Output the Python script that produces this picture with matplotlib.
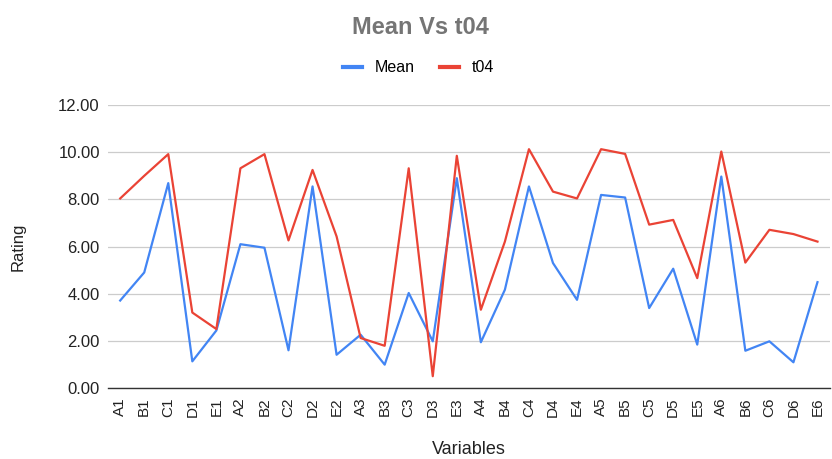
import matplotlib
matplotlib.use("Agg")
import matplotlib.pyplot as plt
from matplotlib.lines import Line2D

plt.rcParams['font.family'] = ['Liberation Sans', 'DejaVu Sans']

variables = ['A1', 'B1', 'C1', 'D1', 'E1', 'A2', 'B2', 'C2', 'D2', 'E2',
             'A3', 'B3', 'C3', 'D3', 'E3', 'A4', 'B4', 'C4', 'D4', 'E4',
             'A5', 'B5', 'C5', 'D5', 'E5', 'A6', 'B6', 'C6', 'D6', 'E6']
mean = [3.71, 4.90, 8.69, 1.13, 2.44, 6.10, 5.95, 1.60, 8.55, 1.41,
        2.26, 0.99, 4.03, 1.98, 8.90, 1.94, 4.17, 8.55, 5.30, 3.74,
        8.19, 8.08, 3.39, 5.06, 1.84, 8.97, 1.58, 1.98, 1.09, 4.49]
t04 = [8.04, 9.00, 9.92, 3.20, 2.50, 9.32, 9.92, 6.26, 9.25, 6.43,
       2.12, 1.79, 9.32, 0.50, 9.85, 3.32, 6.21, 10.13, 8.33, 8.04,
       10.13, 9.93, 6.93, 7.13, 4.66, 10.03, 5.32, 6.71, 6.53, 6.21]
yticks = [0, 2, 4, 6, 8, 10, 12]

blue = '#4285F4'
red = '#EA4335'

fig = plt.figure(figsize=(8.32, 4.59), dpi=100)
ax = fig.add_axes([0.130, 0.1547, 0.867, 0.6163])

x = list(range(len(variables)))
ax.plot(x, mean, color=blue, lw=1.6, zorder=3)
ax.plot(x, t04, color=red, lw=1.6, zorder=3)

ax.set_xlim(-0.5, len(variables) - 0.5)
ax.set_ylim(0, 12)
ax.set_yticks(yticks)
ax.set_yticklabels(['%.2f' % v for v in yticks])
ax.set_xticks(x)
ax.set_xticklabels(variables, rotation=90)
ax.tick_params(axis='both', length=0, colors='#222222')
ax.tick_params(axis='x', pad=7, labelsize=11)
ax.tick_params(axis='y', pad=6, labelsize=12)
ax.grid(axis='y', color='#cccccc', lw=0.9)
ax.set_axisbelow(True)
for s in ['top', 'right', 'left']:
    ax.spines[s].set_visible(False)
ax.spines['bottom'].set_color('#333333')
ax.spines['bottom'].set_linewidth(1.0)

ax.set_ylabel('Rating', fontsize=12, color='#222222', va='center', ha='center')
ax.yaxis.set_label_coords(-0.1248, 0.5)
ax.set_xlabel('Variables', fontsize=13, color='#222222', va='center', ha='center')
ax.xaxis.set_label_coords(0.5, -0.219)

fig.text(0.505, 0.941, 'Mean Vs t04', ha='center', va='center',
         fontsize=17, fontweight='bold', color='#757575')

handles = [Line2D([], [], color=blue, lw=3),
           Line2D([], [], color=red, lw=3)]
fig.legend(handles, ['Mean', 't04'], loc='center', bbox_to_anchor=(0.503, 0.852),
           ncol=2, frameon=False, fontsize=11.5, handlelength=1.2,
           handletextpad=0.8, columnspacing=1.6)

plt.savefig('out.png', dpi=100)
